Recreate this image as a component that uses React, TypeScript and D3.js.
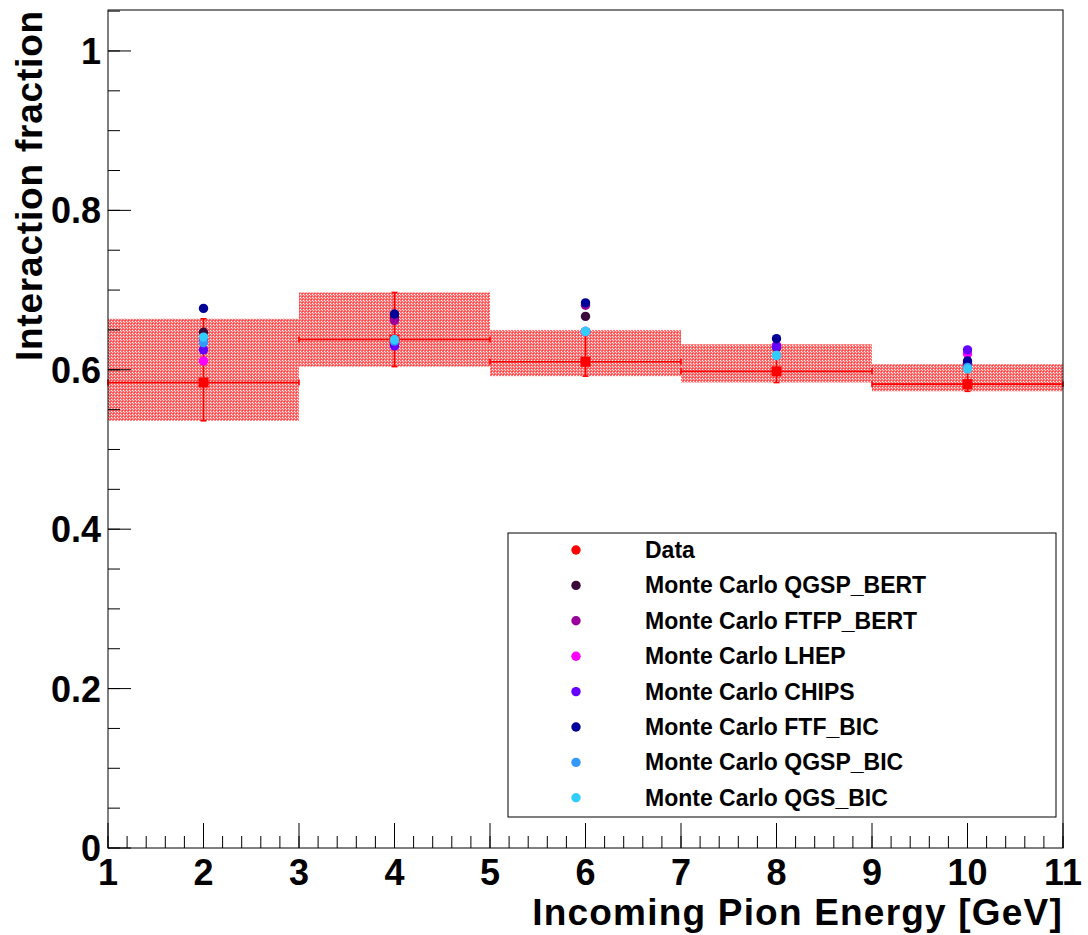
import React from "react";
import * as d3 from "d3";

// Energy bins (GeV) and bin centres
const binEdges = [1, 3, 5, 7, 9, 11];
const energies = [2, 4, 6, 8, 10];

// Measured interaction fraction with its uncertainty band
const dataValues = [0.584, 0.638, 0.61, 0.598, 0.582];
const bandLow = [0.536, 0.604, 0.592, 0.584, 0.573];
const bandHigh = [0.664, 0.697, 0.65, 0.632, 0.607];

// Simulation predictions per physics list
const qgspBert = [0.647, 0.665, 0.667, 0.628, 0.607];
const ftfpBert = [0.638, 0.662, 0.681, 0.63, 0.608];
const lhep = [0.611, 0.634, 0.648, 0.63, 0.62];
const chips = [0.625, 0.63, 0.648, 0.629, 0.625];
const ftfBic = [0.677, 0.67, 0.684, 0.639, 0.611];
const qgspBic = [0.634, 0.636, 0.648, 0.618, 0.603];
const qgsBic = [0.641, 0.638, 0.648, 0.618, 0.601];

const xTickLabels = ["1", "2", "3", "4", "5", "6", "7", "8", "9", "10", "11"];
const yTickLabels = ["0", "0.2", "0.4", "0.6", "0.8", "1"];

const series = [
  { name: "Monte Carlo QGSP_BERT", color: "#3a0a3a", values: qgspBert },
  { name: "Monte Carlo FTFP_BERT", color: "#990099", values: ftfpBert },
  { name: "Monte Carlo LHEP", color: "#ff00ff", values: lhep },
  { name: "Monte Carlo CHIPS", color: "#6600ff", values: chips },
  { name: "Monte Carlo FTF_BIC", color: "#000099", values: ftfBic },
  { name: "Monte Carlo QGSP_BIC", color: "#3399ff", values: qgspBic },
  { name: "Monte Carlo QGS_BIC", color: "#33ccff", values: qgsBic },
];

const W = 1088;
const H = 935;
const FONT = "'Liberation Sans', Arial, Helvetica, sans-serif";

export default function App() {
  const left = 108;
  const right = 1063;
  const top = 10;
  const bottom = 848;

  const x = d3.scaleLinear().domain([1, 11]).range([left, right]);
  const y = d3.scaleLinear().domain([0, 1.0514]).range([bottom, top]);

  const xMajor = d3.range(1, 11.001, 1);
  const xMinor = d3.range(1, 11.001, 0.2);
  const yMajor = d3.range(0, 1.0001, 0.2);
  const yMinor = d3.range(0, 1.0514, 0.05);

  const legendRows = [{ name: "Data", color: "#ff0000" }, ...series];

  return (
    <svg
      width={W}
      height={H}
      style={{ position: "absolute", left: 0, top: 0, background: "#fff" }}
      fontFamily={FONT}
    >
      <defs>
        <pattern id="hatch" width={3} height={3} patternUnits="userSpaceOnUse">
          <rect width={3} height={3} fill="#ff6f6f" />
          <rect x={0} y={0} width={1} height={1} fill="#ffffff" />
          <rect x={1} y={1} width={1} height={1} fill="#ffd0d0" />
          <rect x={2} y={2} width={1} height={1} fill="#ff4040" />
        </pattern>
        <clipPath id="frame">
          <rect x={left} y={top} width={right - left} height={bottom - top} />
        </clipPath>
      </defs>
      <rect width={W} height={H} fill="#fff" />

      {/* uncertainty bands */}
      <g clipPath="url(#frame)">
        {energies.map((e, i) => (
          <rect
            key={"band" + e}
            x={x(binEdges[i])}
            y={y(bandHigh[i])}
            width={x(binEdges[i + 1]) - x(binEdges[i])}
            height={y(bandLow[i]) - y(bandHigh[i])}
            fill="url(#hatch)"
          />
        ))}
      </g>

      {/* data error bars */}
      <g stroke="#ff0000" strokeWidth={1.6}>
        {energies.map((e, i) => {
          const cx = x(e);
          const cy = y(dataValues[i]);
          const x0 = x(binEdges[i]);
          const x1 = x(binEdges[i + 1]);
          return (
            <g key={"err" + e}>
              <line x1={x0} x2={x1} y1={cy} y2={cy} />
              <line x1={x0} x2={x0} y1={cy - 3} y2={cy + 3} />
              <line x1={x1} x2={x1} y1={cy - 3} y2={cy + 3} />
              <line x1={cx} x2={cx} y1={y(bandHigh[i])} y2={y(bandLow[i])} />
              <line x1={cx - 3} x2={cx + 3} y1={y(bandHigh[i])} y2={y(bandHigh[i])} />
              <line x1={cx - 3} x2={cx + 3} y1={y(bandLow[i])} y2={y(bandLow[i])} />
            </g>
          );
        })}
      </g>
      {energies.map((e, i) => (
        <rect
          key={"dm" + e}
          x={x(e) - 5}
          y={y(dataValues[i]) - 5}
          width={10}
          height={10}
          fill="#ff0000"
        />
      ))}

      {/* simulation points */}
      {series.map((s) =>
        energies.map((e, i) => (
          <circle
            key={s.name + e}
            cx={x(e)}
            cy={y(s.values[i])}
            r={4.7}
            fill={s.color}
          />
        ))
      )}

      {/* frame */}
      <rect
        x={left}
        y={top}
        width={right - left}
        height={bottom - top}
        fill="none"
        stroke="#000"
        strokeWidth={1}
      />

      {/* x and y ticks */}
      <g stroke="#000" strokeWidth={1}>
        {xMinor.map((v) => (
          <line key={"xm" + v} x1={x(v)} x2={x(v)} y1={bottom} y2={bottom - 12} />
        ))}
        {xMajor.map((v) => (
          <line key={"xM" + v} x1={x(v)} x2={x(v)} y1={bottom} y2={bottom - 25} />
        ))}
        {yMinor.map((v) => (
          <line key={"ym" + v} x1={left} x2={left + 12} y1={y(v)} y2={y(v)} />
        ))}
        {yMajor.map((v) => (
          <line key={"yM" + v} x1={left} x2={left + 23} y1={y(v)} y2={y(v)} />
        ))}
      </g>

      {/* tick labels */}
      <g fontSize={36} fontWeight="bold" fill="#000">
        {xMajor.map((v, i) => (
          <text key={"xl" + v} x={x(v)} y={885} textAnchor="middle">
            {xTickLabels[i]}
          </text>
        ))}
        {yMajor.map((v, i) => (
          <text key={"yl" + v} x={101} y={y(v) + 13} textAnchor="end">
            {yTickLabels[i]}
          </text>
        ))}
      </g>

      {/* axis titles */}
      <text
        x={right}
        y={925}
        textAnchor="end"
        fontSize={37}
        fontWeight="bold"
        letterSpacing={1.2}
        fill="#000"
      >
        Incoming Pion Energy [GeV]
      </text>
      <text
        transform={`translate(42, ${top}) rotate(-90)`}
        textAnchor="end"
        fontSize={37}
        fontWeight="bold"
        letterSpacing={0.8}
        fill="#000"
      >
        Interaction fraction
      </text>

      {/* legend */}
      <g>
        <rect x={508} y={533} width={548} height={284} fill="#fff" stroke="#000" strokeWidth={1} />
        {legendRows.map((r, i) => {
          const ry = 550 + i * 35.4;
          return (
            <g key={r.name}>
              <circle cx={576} cy={ry} r={4.7} fill={r.color} />
              <text x={645} y={ry + 8} fontSize={23} fontWeight="bold" fill="#000">
                {r.name}
              </text>
            </g>
          );
        })}
      </g>
    </svg>
  );
}
